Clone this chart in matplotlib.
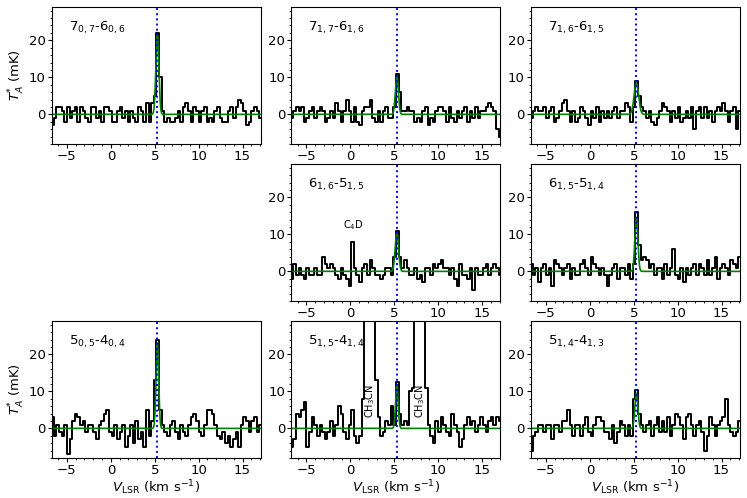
import matplotlib
matplotlib.use("Agg")
import matplotlib.pyplot as plt
import numpy as np
from matplotlib.ticker import MultipleLocator

plt.rcParams["font.size"] = 9.5

# channel velocities (km/s)
v0, dv, nchan = -6.65, 0.3, 81
vel = v0 + dv * np.arange(nchan)
v_lsr = 5.3

labels = ["7$_{0,7}$-6$_{0,6}$", "7$_{1,7}$-6$_{1,6}$", "7$_{1,6}$-6$_{1,5}$",
          "6$_{1,6}$-5$_{1,5}$", "6$_{1,5}$-5$_{1,4}$",
          "5$_{0,5}$-4$_{0,4}$", "5$_{1,5}$-4$_{1,4}$", "5$_{1,4}$-4$_{1,3}$"]

# antenna temperatures (mK), one list per transition
t_707 = [-3, -1, 2, 2, 1, -2, 2, -1, 1, 2,
         -2, 2, 1, -1, -2, 2, 2, -1, 1, -2,
         2, 2, 1, -2, -2, 1, 2, -1, 1, -2,
         1, -1, -2, 2, 1, -2, 3, -2, 3, 5,
         22, 10, 1, -2, -1, -2, -2, -1, 1, -2,
         2, 3, 1, -2, 2, 1, -2, 1, 2, -2,
         -1, -2, 1, 2, -1, -2, -2, 1, 2, -1,
         2, 4, 3, 1, -3, -2, 1, 2, 1, -1, 2]
t_717 = [-1, 1, 2, 1, 2, -2, -1, 1, 2, -1,
         1, 2, 1, -2, -1, 1, -1, 3, 1, -2,
         1, 4, 1, -2, 2, -2, -3, 1, 2, 2,
         4, -1, -2, 1, -2, 1, 2, -1, -1, 2,
         11, 6, 1, 1, 2, 1, 1, -2, -1, -2,
         1, 2, -3, -1, -2, 1, 2, 2, 1, -2,
         2, -1, -2, 1, -1, 1, 2, -2, 1, -1,
         2, -1, 1, 1, 2, 3, 2, 1, -4, -6, 3]
t_716 = [-1, 1, 2, 1, 1, 2, -1, 1, 2, -2,
         -1, 1, 3, 4, 1, -2, 1, -2, -1, 2,
         1, -1, -3, 1, -1, 2, -2, 1, -1, 1,
         -1, 1, 2, -1, 1, 1, 3, 2, -2, 2,
         9, 5, 2, 1, -1, 1, -2, -3, -1, 1,
         3, 2, 1, -2, 1, -1, 2, -2, -1, 1,
         -1, 2, -4, 1, 2, -1, 2, -1, 1, -2,
         1, 2, 1, 3, 1, -2, 1, 2, -4, 1, -1]
t_616 = [-2, 2, -1, 1, -1, -2, 1, -1, -1, 1,
         -1, -1, 4, 2, 1, 2, 1, -1, -2, 1,
         -1, -2, -4, 8, 1, -1, -3, 1, 2, -1,
         3, 1, -1, -1, -2, -1, 1, 1, -1, 4,
         11, 4, 1, 3, 1, -1, -1, 1, -2, -1,
         -3, 1, 1, -1, 2, 1, 2, 3, 1, 1,
         -1, 1, -2, -4, 2, -1, -1, -2, 1, -5,
         1, -1, -1, 1, 2, -1, 1, 2, 1, -1, 1]
t_615 = [2, -1, 1, -3, 1, 2, -1, 1, -4, 3,
         2, 1, -1, 1, 2, -2, 1, -1, -1, 2,
         3, 1, -1, 4, 2, 1, -1, 1, -1, -4,
         -1, 1, 2, -2, 1, 1, -1, 2, -2, 2,
         16, 7, 3, 4, 3, 1, 2, -1, 1, 1,
         -2, 2, -1, 1, 6, -1, -2, 1, -3, 1,
         -1, 1, 2, -1, 2, 1, -1, 3, -1, 1,
         4, -2, 1, 2, 1, -1, 3, 2, 1, 4, -2]
t_505 = [3, -2, 1, -1, -2, 1, -7, -3, 2, 4,
         3, 1, 2, -1, 1, 1, -1, -3, 1, 2,
         4, 5, -1, -2, 1, -3, -1, 1, -5, -2,
         1, -4, 2, -3, -1, -5, 5, -2, 2, 13,
         24, 5, 1, -1, -2, 1, 2, -1, -3, 1,
         -1, -2, 1, 3, 4, 2, -1, -2, 1, 5,
         5, 4, 1, -2, -3, -1, -4, -2, -5, -3,
         -1, -5, 1, 3, 2, -1, 2, 3, -1, 1, 7]
t_515 = [-5, -3, 4, 3, 5, 7, -5, -1, 3, 1,
         -2, 1, -1, -3, -1, 2, -2, 1, 6, 4,
         -1, -3, 1, 5, -2, -4, -2, 8, 45, 45,
         45, 45, 13, 3, -2, -1, 2, 1, 6, 1,
         12.5, 4, 1, 2, 1, 10, 11, 45, 45, 45,
         45, 11, 1, -2, -4, 2, -1, 3, 1, -1,
         -2, 4, 1, -1, -5, -3, 1, 3, 1, 2,
         -1, 1, 3, 1, -1, 2, 3, 1, 3, 2, 3]
t_514 = [-6, -2, -1, 1, 1, -1, 1, 1, -3, 1,
         1, -1, 2, 2, 5, 1, -2, 1, 1, -2,
         1, 3, -1, -2, 1, 3, 3, 2, -1, -1,
         -3, 1, -4, -1, 2, 1, -2, 1, -2, 8,
         10.5, 4, 1, -1, 1, 2, -2, 1, 3, -1,
         2, -1, 3, -2, 1, 4, 3, 1, -3, 3,
         4, 1, -2, 1, 2, -1, -6, -2, 3, 1,
         -2, 1, 2, 3, 8, 1, -1, -2, -1, 2, -4]

# gaussian fit parameters: peak (mK), centre (km/s), FWHM (km/s)
fit_amp = [21.5, 10.5, 8.5, 10.5, 14.5, 23.0, 11.5, 9.5]
fit_v = [5.3, 5.3, 5.3, 5.3, 5.3, 5.3, 5.3, 5.3]
fit_fwhm = [0.4, 0.4, 0.6, 0.45, 0.4, 0.35, 0.35, 0.4]

spectra = [t_707, t_717, t_716, t_616, t_615, t_505, t_515, t_514]
slots = [(0, 0), (0, 1), (0, 2), (1, 1), (1, 2), (2, 0), (2, 1), (2, 2)]

fig, axes = plt.subplots(3, 3, figsize=(7.47, 4.98), dpi=100)
fig.subplots_adjust(left=0.0696, right=0.9906, top=0.986, bottom=0.0803,
                    wspace=0.146, hspace=0.146)
axes[1, 0].set_visible(False)

vfine = np.linspace(vel[0], vel[-1], 2000)
for k, (r, c) in enumerate(slots):
    ax = axes[r, c]
    ax.step(vel, spectra[k], where="mid", color="black", lw=1.4)
    sig = fit_fwhm[k] / 2.3548
    model = fit_amp[k] * np.exp(-0.5 * ((vfine - fit_v[k]) / sig) ** 2)
    ax.plot(vfine, model, color="green", lw=1.2)
    ax.axvline(v_lsr, color="blue", ls=":", lw=1.4)
    ax.set_xlim(-6.7, 17.1)
    ax.set_ylim(-8, 29)
    ax.xaxis.set_major_locator(MultipleLocator(5))
    ax.xaxis.set_minor_locator(MultipleLocator(1))
    ax.yaxis.set_major_locator(MultipleLocator(10))
    ax.yaxis.set_minor_locator(MultipleLocator(2))
    ax.tick_params(which="major", length=3, pad=1.5)
    ax.tick_params(which="minor", length=1.5)
    ax.text(0.08, 0.85, labels[k], transform=ax.transAxes, va="center", fontsize=9.5)
    if c == 0:
        ax.set_ylabel("$T_A^{*}$ (mK)", labelpad=1)
    if r == 2:
        ax.set_xlabel("$V_{\\rm LSR}$ (km s$^{-1}$)", labelpad=1)

axes[1, 1].text(0.3, 12.5, "C$_4$D", ha="center", va="center", fontsize=7)
axes[2, 1].text(2.2, 7.5, "CH$_3$CN", ha="center", va="center", rotation=90, fontsize=7)
axes[2, 1].text(7.9, 7.5, "CH$_3$CN", ha="center", va="center", rotation=90, fontsize=7)

fig.savefig("out.png", dpi=100)
